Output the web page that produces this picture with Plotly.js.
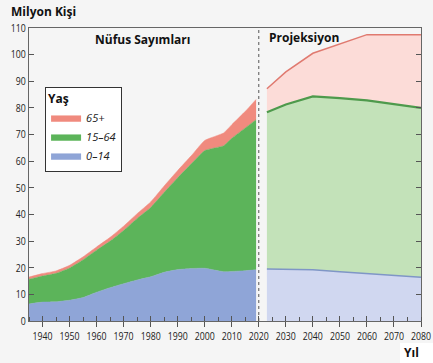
<!DOCTYPE html>
<html><head><meta charset="utf-8">
<script src="https://cdn.plot.ly/plotly-3.0.1.min.js"></script>
<style>html,body{margin:0;padding:0;background:#f5f5f5;}</style>
</head><body>
<div id="chart" style="width:433px;height:363px;"></div>
<script>
// Census (Nüfus Sayımları)
const censusYears = [1935,1940,1945,1950,1955,1960,1965,1970,1975,1980,1985,1990,1995,2000,2007,2010,2015,2019];
const census0_14  = [6.4,7.1,7.2,7.8,8.8,10.8,12.5,14.0,15.4,16.6,18.3,19.3,19.7,19.8,18.5,18.6,18.9,19.2];
const census15_64 = [9.3,9.8,10.7,12.1,14.2,15.8,17.5,20.0,23.1,26.0,30.0,34.5,39.3,44.2,47.3,50.0,53.6,56.4];
const census65    = [0.8,0.9,0.9,1.0,1.1,1.2,1.4,1.6,1.8,2.1,2.4,2.7,3.0,3.8,4.8,5.1,6.2,7.6];
// Projection (Projeksiyon)
const projYears = [2023,2030,2040,2050,2060,2070,2080];
const proj0_14  = [19.5,19.4,19.2,18.5,17.8,17.1,16.4];
const proj15_64 = [58.9,61.9,65.1,65.2,65.0,64.4,63.6];
const proj65    = [8.8,12.2,16.2,20.3,24.7,26.0,27.5];
const groupNames = ['0–14','15–64','65+'];
const xTickVals = [1940,1950,1960,1970,1980,1990,2000,2010,2020,2030,2040,2050,2060,2070,2080];

const cColors = ['#8fa5d7','#5cb45a','#f08a7e'];
const pFill = ['#d0d7f0','#c3e2b9','#fcdcd8'];
const pLine = ['#7f96c6','#4e9a4c','#e07a70'];

const cVals = [census0_14, census15_64, census65];
const pVals = [proj0_14, proj15_64, proj65];
const traces = [];
for (let i=0;i<3;i++){
  traces.push({x:censusYears, y:cVals[i], type:'scatter', mode:'lines', stackgroup:'census',
    name:groupNames[i], fillcolor:cColors[i], line:{color:cColors[i], width:0.5, shape:'spline', smoothing:0.4},
    hoverinfo:'skip'});
}
for (let i=0;i<3;i++){
  traces.push({x:projYears, y:pVals[i], type:'scatter', mode:'lines', stackgroup:'proj',
    name:groupNames[i], showlegend:false, fillcolor:pFill[i], line:{color:pLine[i], width:i==1?2.2:1.5},
    hoverinfo:'skip'});
}
// dummy trace for overlay axis
traces.push({x:[1935,2080], y:[0,0], xaxis:'x2', mode:'lines', line:{width:0}, showlegend:false, hoverinfo:'skip'});

const tickFont = {family:"'Open Sans','Liberation Sans',sans-serif", size:11, color:'#222'};
const boldFont = {family:"'Open Sans','Noto Sans',sans-serif", size:12, color:'#111', weight:'bold'};

const layout = {
  width:433, height:363,
  margin:{l:29, r:12, t:28, b:42},
  paper_bgcolor:'#f5f5f5', plot_bgcolor:'#f5f5f5',
  showlegend:true,
  xaxis:{range:[1935,2080], tickvals:xTickVals, ticks:'outside', ticklen:5, tickwidth:1, tickcolor:'#555',
    tickangle:0, automargin:false, ticklabeloverflow:'allow',
    minor:{dtick:5, tick0:1935, ticks:'inside', ticklen:4, tickcolor:'#555', showgrid:false},
    showgrid:false, zeroline:false, showline:true, linecolor:'#666', linewidth:1, mirror:true,
    tickfont:tickFont, fixedrange:true},
  xaxis2:{overlaying:'x', range:[1935,2080], tickvals:xTickVals, ticks:'inside', ticklen:5, tickcolor:'#555',
    showticklabels:false, showgrid:false, zeroline:false, showline:false, side:'bottom', fixedrange:true},
  yaxis:{range:[0,110], dtick:10, ticks:'inside', ticklen:5, tickcolor:'#555', showgrid:false, zeroline:false,
    showline:true, linecolor:'#666', linewidth:1, mirror:'ticks', tickfont:tickFont, fixedrange:true, automargin:false,
    ticklabeloverflow:'allow'},
  legend:{x:0.041, y:0.80, xanchor:'left', yanchor:'top', traceorder:'reversed',
    bgcolor:'#ffffff', bordercolor:'#333', borderwidth:1,
    font:{family:"'Open Sans',sans-serif", size:11, color:'#222', style:'italic'},
    title:{text:'Yaş', font:{family:"'Open Sans',sans-serif", size:12, color:'#111', weight:'bold', style:'normal'}},
    itemwidth:30, tracegroupgap:0},
  shapes:[
    {type:'line', xref:'x', yref:'paper', x0:2020, x1:2020, y0:0, y1:1, line:{color:'#555', width:1, dash:'dot'}},
    {type:'rect', xref:'paper', yref:'paper', x0:(400-29)/392, x1:(433-29)/392, y0:-(363-321)/293, y1:-(343-321)/293, fillcolor:'#ffffff', line:{width:0}, layer:'below'}
  ],
  annotations:[
    {text:'Milyon Kişi', xref:'paper', yref:'paper', x:-20/392, y:1+ (28-11)/293, xanchor:'left', yanchor:'middle', showarrow:false, font:boldFont},
    {text:'Nüfus Sayımları', xref:'x', yref:'paper', x:1977, y:1-(40-28)/293, xanchor:'center', yanchor:'middle', showarrow:false, font:boldFont},
    {text:'Projeksiyon', xref:'x', yref:'paper', x:2023, y:1-(38-28)/293, xanchor:'left', yanchor:'middle', showarrow:false, font:boldFont},
    {text:'Yıl', xref:'paper', yref:'paper', x:1, y:-(352-321)/293, xanchor:'right', yanchor:'middle', showarrow:false, font:boldFont}
  ]
};
Plotly.newPlot('chart', traces, layout, {staticPlot:true, displayModeBar:false}).then(function(gd){
  // condense tick labels (reference uses a condensed face)
  gd.querySelectorAll('.xtick text, .ytick text').forEach(function(t){
    const n = t.textContent.length;
    t.setAttribute('textLength', (n*5.0).toFixed(1));
    t.setAttribute('lengthAdjust', 'spacingAndGlyphs');
  });
});
</script>
</body></html>
